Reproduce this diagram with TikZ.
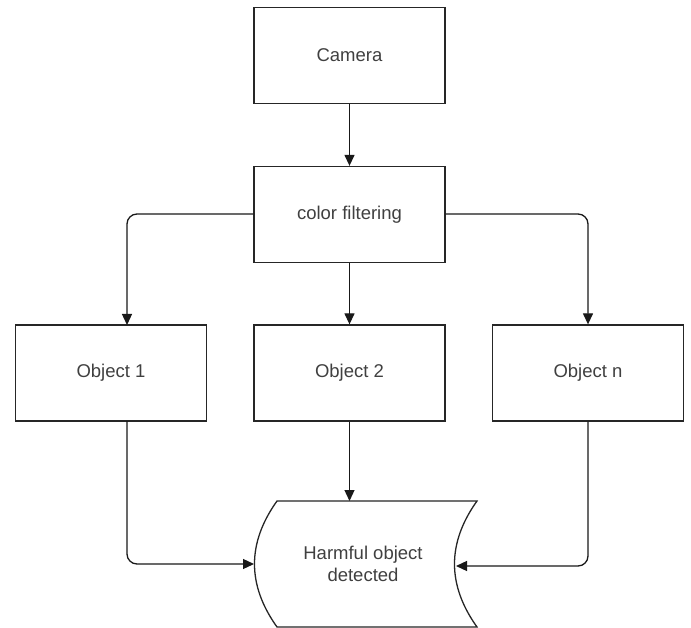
\documentclass[tikz,border=0pt]{standalone}
\usepackage{fontspec}
\setmainfont{Liberation Sans}
\usetikzlibrary{arrows.meta,positioning}
\begin{document}
\begin{tikzpicture}[x=1pt,y=1pt,
  lbl/.style={text=black!75, font=\fontsize{18.5}{22}\selectfont, align=center},
  box/.style={lbl, draw=black!85, line width=1.3pt, minimum width=191pt, minimum height=96pt, inner sep=0pt},
  conn/.style={draw=black!90, line width=1.3pt, -{Triangle[length=11pt,width=10pt]}, rounded corners=10pt}
]
\useasboundingbox (0,0) rectangle (691,-628);
\fill[white] (0,0) rectangle (691,-628);
\node[box] (cam) at (349.5,-55.5) {Camera};
\node[box] (cf) at (349.5,-214.5) {color filtering};
\node[box] (o1) at (111,-373) {Object 1};
\node[box] (o2) at (349.5,-373) {Object 2};
\node[box] (on) at (588,-373) {Object n};
% stored data shape
\node[lbl, minimum width=224pt, minimum height=126pt, inner sep=0pt] (harm) at (363,-564) {Harmful object\\detected};
\draw[black!85, line width=1.3pt] (277,-501) -- (477,-501)
  .. controls (447,-543) and (447,-585) .. (477,-627) -- (277,-627)
  .. controls (247,-585) and (247,-543) .. (277,-501) -- cycle;
\coordinate (hl) at (254,-564);
\coordinate (hr) at (456,-566);
\coordinate (o1t) at (127,-325);
\coordinate (o1b) at (127,-421);
\draw[conn] (cam.south) -- (cf.north);
\draw[conn] (cf.west |- 0,-214) -| (o1t);
\draw[conn] (cf.east |- 0,-214) -| (on.north);
\draw[conn] (cf.south) -- (o2.north);
\draw[conn] (o2.south) -- (o2.south |- 0,-501);
\draw[conn] (o1b) |- (hl);
\draw[conn] (on.south) |- (hr);
\end{tikzpicture}
\end{document}
